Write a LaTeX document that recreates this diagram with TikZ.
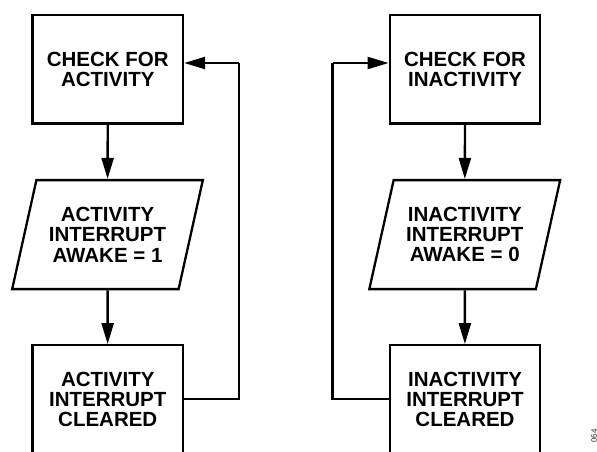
\documentclass[tikz,border=0pt]{standalone}
\usepackage{fontspec}
\setmainfont{Liberation Sans}
\usetikzlibrary{shapes.geometric,arrows.meta}
\begin{document}
\begin{tikzpicture}[x=1pt,y=-1pt,
  every node/.style={font=\fontsize{20.5}{20.3}\selectfont\bfseries, align=center},
  procbox/.style={draw, line width=2.3pt, minimum width=150.5pt, minimum height=108.5pt, inner sep=0pt},
  iobox/.style={draw, line width=2.3pt, trapezium, trapezium left angle=70, trapezium right angle=110,
    trapezium stretches=true, minimum width=191pt, minimum height=109pt, inner sep=0pt},
  flow/.style={line width=2.3pt, -{Triangle[length=21pt,width=12pt]}},
  wire/.style={line width=2.3pt}]
\useasboundingbox (0,0) rectangle (597,451);
\begin{scope}
\clip (0,0) rectangle (597,451);
% left column
\node[procbox] (ca) at (107.75,69.3) {CHECK FOR\\ACTIVITY};
\node[iobox] (ia) at (107.5,234.6) {ACTIVITY\\INTERRUPT\\AWAKE = 1};
\node[procbox] (ra) at (107.75,399.5) {ACTIVITY\\INTERRUPT\\CLEARED};
\coordinate (ka) at (239,399.3);
\coordinate (kb) at (239,63);
\draw[flow] (ca) -- (ia);
\draw[flow] (ia) -- (ra);
\draw[wire] (ra.east |- ka) -- (ka) -- (kb);
\draw[flow] (kb) -- (kb -| ca.east);
% right column
\node[procbox] (ci) at (465,69.3) {CHECK FOR\\INACTIVITY};
\node[iobox] (ii) at (464.75,234.6) {INACTIVITY\\INTERRUPT\\AWAKE = 0};
\node[procbox] (ri) at (465,399.5) {INACTIVITY\\INTERRUPT\\CLEARED};
\coordinate (kc) at (332.5,399.3);
\coordinate (kd) at (332.5,63);
\draw[flow] (ci) -- (ii);
\draw[flow] (ii) -- (ri);
\draw[wire] (ri.west |- kc) -- (kc) -- (kd);
\draw[flow] (kd) -- (kd -| ci.west);
\end{scope}
\node[font=\fontsize{8}{8}\selectfont, rotate=90, text=black!85] (fig) at (594,436) {064};
\end{tikzpicture}
\end{document}
